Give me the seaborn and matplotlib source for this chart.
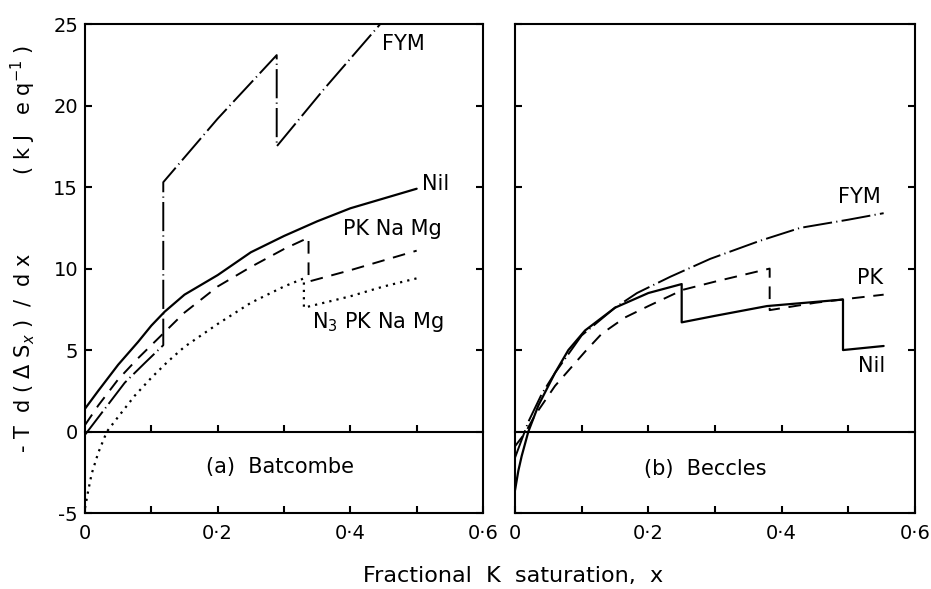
import matplotlib
matplotlib.use("Agg")
import matplotlib.pyplot as plt
import seaborn as sns

# ---------------- data ----------------
# (a) Batcombe
a_nil_x = [0, 0.02, 0.05, 0.08, 0.1, 0.12, 0.15, 0.2, 0.25, 0.3, 0.35, 0.4, 0.45, 0.5]
a_nil_y = [1.4, 2.5, 4.1, 5.5, 6.5, 7.35, 8.4, 9.6, 11.0, 12.0, 12.9, 13.7, 14.3, 14.9]

a_pk_x = [0, 0.02, 0.05, 0.08, 0.1, 0.12, 0.15, 0.2, 0.25, 0.3, 0.337, 0.337, 0.4, 0.45, 0.5]
a_pk_y = [0.4, 1.6, 3.2, 4.5, 5.3, 6.1, 7.3, 8.9, 10.1, 11.2, 11.9, 9.2, 9.9, 10.5, 11.1]

a_n3_x = [0, 0.005, 0.01, 0.02, 0.033, 0.05, 0.075, 0.1, 0.125, 0.15, 0.2, 0.25, 0.3, 0.33,
          0.33, 0.4, 0.45, 0.5]
a_n3_y = [-4.7, -3.6, -2.6, -1.3, 0.0, 0.9, 2.2, 3.3, 4.3, 5.2, 6.6, 7.9, 8.9, 9.4,
          7.6, 8.3, 8.9, 9.4]

a_fym_x = [0, 0.03, 0.06, 0.09, 0.118, 0.118, 0.2, 0.289, 0.289, 0.36, 0.445]
a_fym_y = [-0.2, 1.4, 3.0, 4.2, 5.3, 15.3, 19.2, 23.1, 17.5, 21.0, 25.0]

# (b) Beccles
b_nil_x = [0, 0.005, 0.01, 0.02, 0.035, 0.06, 0.08, 0.105, 0.15, 0.2, 0.25,
           0.25, 0.3, 0.378, 0.492, 0.492, 0.553]
b_nil_y = [-3.6, -2.4, -1.5, 0.0, 1.6, 3.6, 5.0, 6.2, 7.6, 8.5, 9.05,
           6.7, 7.1, 7.7, 8.1, 5.0, 5.25]

b_pk_x = [0, 0.015, 0.03, 0.06, 0.105, 0.13, 0.165, 0.2, 0.252, 0.3, 0.382,
          0.382, 0.45, 0.5, 0.553]
b_pk_y = [-0.9, -0.1, 1.0, 2.8, 4.9, 6.0, 7.0, 7.7, 8.7, 9.2, 10.0,
          7.45, 7.9, 8.15, 8.4]

b_fym_x = [0, 0.02, 0.04, 0.06, 0.1, 0.15, 0.183, 0.233, 0.293, 0.367, 0.428, 0.5, 0.553]
b_fym_y = [-1.6, 0.6, 2.3, 3.6, 5.9, 7.6, 8.5, 9.5, 10.6, 11.7, 12.5, 13.0, 13.4]

x_ticks = [0, 0.1, 0.2, 0.3, 0.4, 0.5, 0.6]
x_ticklabels = ["0", "", "0·2", "", "0·4", "", "0·6"]
zero_ticks = [0.1, 0.2, 0.3, 0.4, 0.5]
y_ticks = [-5, 0, 5, 10, 15, 20, 25]
y_ticklabels = ["-5", "0", "5", "10", "15", "20", "25"]

# ---------------- style ----------------
sns.set_theme(style="ticks")
plt.rcParams["font.family"] = ["DejaVu Sans"]
plt.rcParams["axes.linewidth"] = 1.5
plt.rcParams["text.color"] = "black"
plt.rcParams["axes.labelcolor"] = "black"
plt.rcParams["xtick.color"] = "black"
plt.rcParams["ytick.color"] = "black"

FS = 14
FA = 15
LW = 1.4
styles = {
    "solid": dict(linestyle="-", linewidth=1.6),
    "dash": dict(linestyle=(0, (6.5, 4.5)), linewidth=LW),
    "dashdot": dict(linestyle=(0, (15, 2.2, 0.6, 2.2)), linewidth=LW),
    "dot": dict(linestyle=(0, (1, 2.3)), linewidth=1.6),
}

fig = plt.figure(figsize=(9.31, 5.89), dpi=100)
ax_a = fig.add_axes([0.0913, 0.129, 0.4275, 0.830])
ax_b = fig.add_axes([0.5532, 0.129, 0.4296, 0.830])


def draw(ax, x, y, st):
    sns.lineplot(x=x, y=y, ax=ax, sort=False, estimator=None, color="black",
                 **styles[st])


draw(ax_a, a_nil_x, a_nil_y, "solid")
draw(ax_a, a_pk_x, a_pk_y, "dash")
draw(ax_a, a_n3_x, a_n3_y, "dot")
draw(ax_a, a_fym_x, a_fym_y, "dashdot")

draw(ax_b, b_nil_x, b_nil_y, "solid")
draw(ax_b, b_pk_x, b_pk_y, "dash")
draw(ax_b, b_fym_x, b_fym_y, "dashdot")

for ax, show_labels in [(ax_a, True), (ax_b, False)]:
    ax.set_xlim(0, 0.6)
    ax.set_ylim(-5, 25)
    ax.set_xticks(x_ticks)
    ax.set_xticklabels(x_ticklabels, fontsize=FS)
    ax.set_yticks(y_ticks)
    if show_labels:
        ax.set_yticklabels(y_ticklabels, fontsize=FS)
    else:
        ax.set_yticklabels([])
    ax.tick_params(axis="x", direction="in", length=5, width=1.5, pad=8,
                   top=False, bottom=True, colors="black")
    ax.tick_params(axis="y", direction="in", length=5, width=1.5, pad=5,
                   left=True, right=True, colors="black")
    for s in ax.spines.values():
        s.set_color("black")
        s.set_linewidth(1.5)
    ax.set_xlabel("")
    ax.set_ylabel("")
    # zero line with upward ticks
    tw = ax.twiny()
    tw.set_xlim(0, 0.6)
    for name in ["top", "left", "right"]:
        tw.spines[name].set_visible(False)
    tw.spines["bottom"].set_visible(True)
    tw.spines["bottom"].set_position(("data", 0))
    tw.spines["bottom"].set_color("black")
    tw.spines["bottom"].set_linewidth(1.5)
    tw.xaxis.set_ticks_position("bottom")
    tw.set_xticks(zero_ticks)
    tw.set_xticklabels([])
    tw.tick_params(axis="x", direction="in", length=5, width=1.5, colors="black")

# annotations
ax_a.text(0.448, 23.8, "FYM", fontsize=FA, va="center", ha="left")
ax_a.text(0.508, 15.2, "Nil", fontsize=FA, va="center", ha="left")
ax_a.text(0.389, 12.4, "PK Na Mg", fontsize=FA, va="center", ha="left")
ax_a.text(0.342, 6.7, "N$_3$ PK Na Mg", fontsize=FA, va="center", ha="left")
ax_a.text(0.294, -2.2, "(a)  Batcombe", fontsize=FA, va="center", ha="center")

ax_b.text(0.485, 14.4, "FYM", fontsize=FA, va="center", ha="left")
ax_b.text(0.513, 9.4, "PK", fontsize=FA, va="center", ha="left")
ax_b.text(0.515, 4.0, "Nil", fontsize=FA, va="center", ha="left")
ax_b.text(0.285, -2.3, "(b)  Beccles", fontsize=FA, va="center", ha="center")

ax_a.set_ylabel("- T  d ( Δ S$_x$ )  /  d x            ( k J   e q$^{-1}$ )",
                fontsize=15)
ax_a.yaxis.set_label_coords(-0.118, 0.541)

fig.text(0.551, 0.022, "Fractional  K  saturation,  x", fontsize=16,
         ha="center", va="center")

fig.savefig("out.png", dpi=100)
